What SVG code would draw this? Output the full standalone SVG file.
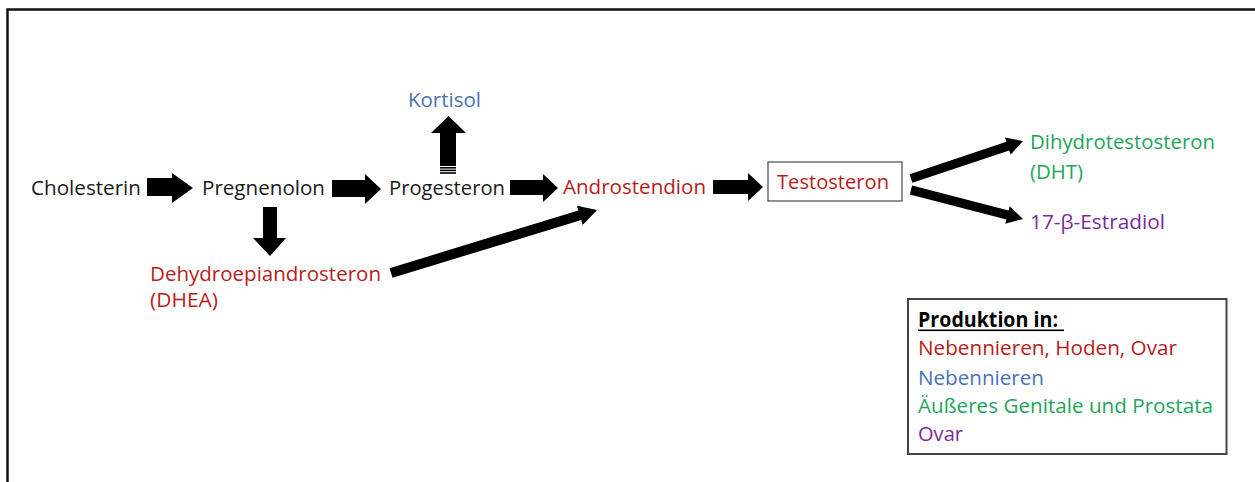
<svg xmlns="http://www.w3.org/2000/svg" width="1255" height="482" viewBox="0 0 1255 482">
<style>
text{font-family:"Open Sans","Liberation Sans",sans-serif;font-size:20.5px;fill:#1a1a1a}
.red{fill:#b71c1c}
.blue{fill:#4a72b8}
.green{fill:#22a55a}
.purple{fill:#7a2a9c}
.arr{fill:#000}
</style>
<rect width="1255" height="482" fill="#fff"/>
<path d="M7.5,482 V9.5 H1255" fill="none" stroke="#111" stroke-width="2.5"/>

<g id="connectors">
<polygon class="arr" points="147,178 172,178 172,173 193,188 172,203 172,196 147,196"/>
<polygon class="arr" points="332,180 365,180 365,174 381,189 365,204 365,197 332,197"/>
<polygon class="arr" points="263,207 277,207 277,238 286,238 270,256 253,238 263,238"/>
<g id="kortisol-arrow">
<polygon class="arr" points="440,166 440,133 431,133 448.5,116 466,133 456,133 456,166"/>
<rect class="arr" x="440" y="167" width="16" height="1.6"/>
<rect class="arr" x="440" y="169.6" width="16" height="1.6"/>
<rect class="arr" x="440" y="172.2" width="16" height="1.6"/>
</g>
<polygon class="arr" points="510,180 543,180 543,174 558,188 543,202 543,195 510,195"/>
<polygon class="arr" points="713,180 748,180 748,173 763,187 748,201 748,194 713,194"/>
<polygon class="arr" points="389.5,268.2 578.3,210.5 576.9,205.7 597,210 582.7,224.9 581.3,220.1 392.5,277.8"/>
<polygon class="arr" points="909.6,174.2 1006.4,141.8 1004.9,137.6 1023,141 1010.7,154.6 1009.2,150.4 912.4,182.8"/>
<polygon class="arr" points="912.1,185.6 1008.6,210.6 1009.8,206.3 1023,219 1005.2,223.7 1006.4,219.4 909.9,194.4"/>
</g>

<g id="cholesterin"><text x="31" y="195" textLength="110" lengthAdjust="spacingAndGlyphs">Cholesterin</text></g>
<g id="pregnenolon"><text x="202" y="195" textLength="123" lengthAdjust="spacingAndGlyphs">Pregnenolon</text></g>
<g id="progesteron"><text x="389" y="195" textLength="116" lengthAdjust="spacingAndGlyphs">Progesteron</text></g>
<g id="kortisol"><text class="blue" x="408" y="107" textLength="73" lengthAdjust="spacingAndGlyphs">Kortisol</text></g>
<g id="androstendion"><text class="red" x="563" y="194" textLength="143" lengthAdjust="spacingAndGlyphs">Androstendion</text></g>
<g id="testosteron">
<rect x="768" y="162" width="134" height="39" fill="#fff" stroke="#555" stroke-width="1.3"/>
<text class="red" x="777" y="189" textLength="112" lengthAdjust="spacingAndGlyphs">Testosteron</text>
</g>
<g id="dht">
<text class="green" x="1030" y="149" textLength="185" lengthAdjust="spacingAndGlyphs">Dihydrotestosteron</text>
<text class="green" x="1030" y="179" textLength="53" lengthAdjust="spacingAndGlyphs">(DHT)</text>
</g>
<g id="estradiol"><text class="purple" x="1030" y="229" textLength="135" lengthAdjust="spacingAndGlyphs">17-β-Estradiol</text></g>
<g id="dhea">
<text class="red" x="150" y="281" textLength="231" lengthAdjust="spacingAndGlyphs">Dehydroepiandrosteron</text>
<text class="red" x="150" y="307" textLength="68" lengthAdjust="spacingAndGlyphs">(DHEA)</text>
</g>
<g id="legend">
<rect x="908" y="299" width="318.5" height="155" fill="#fff" stroke="#444" stroke-width="2"/>
<text x="918" y="327" font-weight="bold" textLength="140" lengthAdjust="spacingAndGlyphs" style="fill:#000">Produktion in:</text>
<rect x="918" y="329.5" width="146" height="1.6" fill="#000"/>
<text class="red" x="918" y="355" textLength="259" lengthAdjust="spacingAndGlyphs">Nebennieren, Hoden, Ovar</text>
<text class="blue" x="918" y="385" textLength="126" lengthAdjust="spacingAndGlyphs">Nebennieren</text>
<text class="green" x="918" y="413" textLength="295" lengthAdjust="spacingAndGlyphs">Äußeres Genitale und Prostata</text>
<text class="purple" x="918" y="441" textLength="45" lengthAdjust="spacingAndGlyphs">Ovar</text>
</g>
</svg>
